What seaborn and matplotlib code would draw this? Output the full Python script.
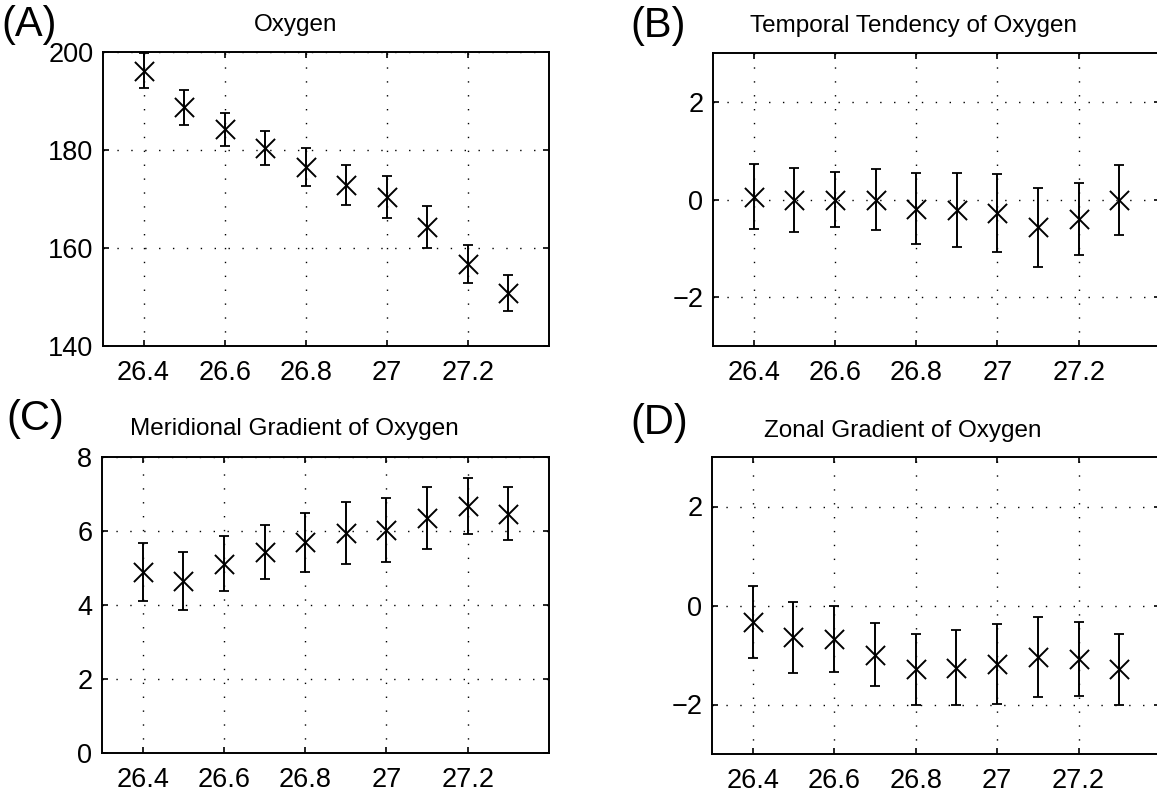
import seaborn as sns
import matplotlib.pyplot as plt
import pandas as pd

# isopycnal layers (sigma-theta)
density = [26.4, 26.5, 26.6, 26.7, 26.8, 26.9, 27.0, 27.1, 27.2, 27.3]

# (A) oxygen
oxygen = [196.2, 188.7, 184.2, 180.4, 176.6, 172.9, 170.4, 164.3, 156.8, 150.8]
oxygen_err = [3.6, 3.6, 3.3, 3.4, 3.9, 4.1, 4.3, 4.3, 3.9, 3.7]

# (B) temporal tendency
tendency = [0.06, -0.01, 0.0, 0.0, -0.19, -0.21, -0.28, -0.57, -0.40, -0.01]
tendency_err = [0.66, 0.66, 0.57, 0.62, 0.73, 0.76, 0.80, 0.81, 0.74, 0.71]

# (C) meridional gradient
merid = [4.89, 4.64, 5.12, 5.43, 5.69, 5.95, 6.02, 6.35, 6.68, 6.47]
merid_err = [0.78, 0.78, 0.74, 0.74, 0.80, 0.84, 0.86, 0.83, 0.75, 0.72]

# (D) zonal gradient
zonal = [-0.34, -0.64, -0.68, -0.99, -1.29, -1.26, -1.18, -1.04, -1.08, -1.29]
zonal_err = [0.73, 0.72, 0.66, 0.64, 0.71, 0.76, 0.80, 0.81, 0.75, 0.71]

xticks = [26.4, 26.6, 26.8, 27.0, 27.2]
xticklabels = ['26.4', '26.6', '26.8', '27', '27.2']

panels = [
    ('(A)', 'Oxygen', oxygen, oxygen_err, (140, 200), [140, 160, 180, 200]),
    ('(B)', 'Temporal Tendency of Oxygen', tendency, tendency_err, (-3, 3), [-2, 0, 2]),
    ('(C)', 'Meridional Gradient of Oxygen', merid, merid_err, (0, 8), [0, 2, 4, 6, 8]),
    ('(D)', 'Zonal Gradient of Oxygen', zonal, zonal_err, (-3, 3), [-2, 0, 2]),
]

W, H = 1157, 794
# axes boxes in pixels: left, right, top, bottom
boxes = [(103, 549, 52, 346), (713, 1160, 53, 346), (102, 549, 457, 753), (712, 1160, 457, 754)]
# panel letter (x, y centre) and title (x centre, baseline) in pixels
letter_pos = [(1, 25), (630, 26), (6, 419), (630, 423)]
title_pos = [(296, 31), (913, 32), (294, 435), (903, 437)]

sns.set_theme(style="ticks")
plt.rcParams['font.family'] = ['Liberation Sans', 'DejaVu Sans']
plt.rcParams['text.color'] = 'black'

fig = plt.figure(figsize=(W / 100, H / 100), dpi=100)

for (letter, title, vals, errs, ylim, yticks), box, lp, tp in zip(panels, boxes, letter_pos, title_pos):
    l, r, t, b = box
    ax = fig.add_axes([l / W, 1 - b / H, (r - l) / W, (b - t) / H])
    df = pd.DataFrame({'density': density, 'value': vals, 'err': errs})

    ax.errorbar(df['density'], df['value'], yerr=df['err'], fmt='none',
                ecolor='black', elinewidth=1.4, capsize=3.6, capthick=1.3, zorder=3)
    sns.scatterplot(data=df, x='density', y='value', marker='x', s=190,
                    color='black', linewidth=1.4, ax=ax, zorder=4)

    ax.set_xlim(26.3, 27.4)
    ax.set_ylim(*ylim)
    ax.set_xticks(xticks)
    ax.set_xticklabels(xticklabels)
    ax.set_yticks(yticks)
    ax.set_xlabel('')
    ax.set_ylabel('')

    ax.grid(True, color='black', linestyle=(0, (1, 9)), linewidth=1.0)
    for s in ax.spines.values():
        s.set_linewidth(1.4)
        s.set_color('black')
    ax.tick_params(direction='in', length=4, width=1.2, top=True, right=True,
                   labelsize=19.5, colors='black')
    ax.tick_params(axis='x', pad=10)
    ax.tick_params(axis='y', pad=7)

    fig.text(tp[0] / W, 1 - tp[1] / H, title, ha='center', va='baseline', fontsize=17.5, color='black')
    fig.text(lp[0] / W, 1 - lp[1] / H, letter, ha='left', va='center', fontsize=30, color='black')

fig.savefig('out.png', dpi=100)
